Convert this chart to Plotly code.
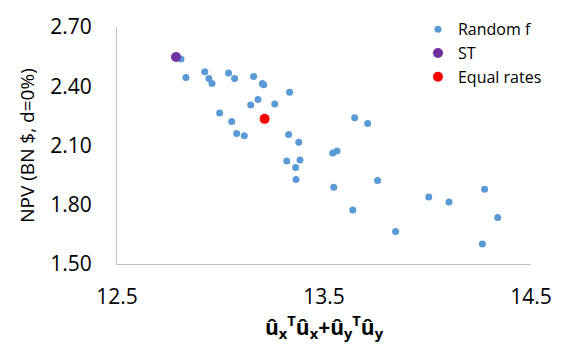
import plotly.graph_objects as go

# Random f points
random_x = [12.809, 12.833, 12.924, 12.944, 12.959, 13.039, 13.068, 13.160, 13.202,
            13.209, 13.334, 13.181, 13.146, 13.262, 12.996, 13.054, 13.078, 13.115,
            13.329, 13.378, 13.320, 13.384, 13.363, 13.365, 13.542, 13.563, 13.648,
            13.711, 13.547, 13.759, 13.639, 13.846, 14.006, 14.104, 14.276, 14.339,
            14.265]
random_y = [2.538, 2.444, 2.473, 2.439, 2.414, 2.467, 2.439, 2.449, 2.414,
            2.407, 2.369, 2.333, 2.305, 2.310, 2.265, 2.221, 2.161, 2.150,
            2.156, 2.117, 2.022, 2.027, 1.988, 1.928, 2.062, 2.072, 2.240,
            2.211, 1.888, 1.923, 1.774, 1.665, 1.839, 1.814, 1.879, 1.735,
            1.601]
st_x = [12.785]
st_y = [2.548]
equal_x = [13.213]
equal_y = [2.235]

x_ticks = [12.5, 13.5, 14.5]
y_ticks = [1.50, 1.80, 2.10, 2.40, 2.70]

font = "Open Sans"

fig = go.Figure()
fig.add_trace(go.Scatter(x=random_x, y=random_y, mode="markers", name="Random f",
                         marker=dict(color="#5B9BD5", size=7)))
fig.add_trace(go.Scatter(x=st_x, y=st_y, mode="markers", name="ST",
                         marker=dict(color="#7030A0", size=10)))
fig.add_trace(go.Scatter(x=equal_x, y=equal_y, mode="markers", name="Equal rates",
                         marker=dict(color="#FF0000", size=10)))

fig.update_layout(
    width=575, height=344,
    margin=dict(l=117, r=44, t=22, b=80),
    plot_bgcolor="white", paper_bgcolor="white",
    font=dict(family=font, size=21, color="black"),
    legend=dict(x=0.727, y=1.062, xanchor="left", yanchor="top",
                font=dict(size=16), bgcolor="rgba(0,0,0,0)",
                tracegroupgap=0, itemwidth=30),
    showlegend=True,
)
fig.update_xaxes(range=[12.5, 14.5], tickvals=x_ticks, ticktext=[f"{v:.1f}" for v in x_ticks],
                 showgrid=False, zeroline=False, showline=True, linecolor="#BFBFBF",
                 ticks="outside", ticklen=14, tickcolor="rgba(0,0,0,0)", automargin=False,
                 title=dict(text="<b>û<sub>x</sub><sup>T</sup>û<sub>x</sub>+û<sub>y</sub><sup>T</sup>û<sub>y</sub></b>",
                            font=dict(size=21), standoff=0))
fig.update_yaxes(range=[1.5, 2.7], tickvals=y_ticks, ticktext=[f"{v:.2f}" for v in y_ticks],
                 showgrid=False, zeroline=False, showline=True, linecolor="#BFBFBF",
                 ticks="outside", ticklen=20, tickcolor="rgba(0,0,0,0)", automargin=False,
                 title=dict(text="NPV (BN $, d=0%)", font=dict(size=19), standoff=10))

# drop the default page margin so the figure sits at the window corner
fig.write_html("out.html", config={"displayModeBar": False},
               post_script="document.body.style.margin = '0';")
